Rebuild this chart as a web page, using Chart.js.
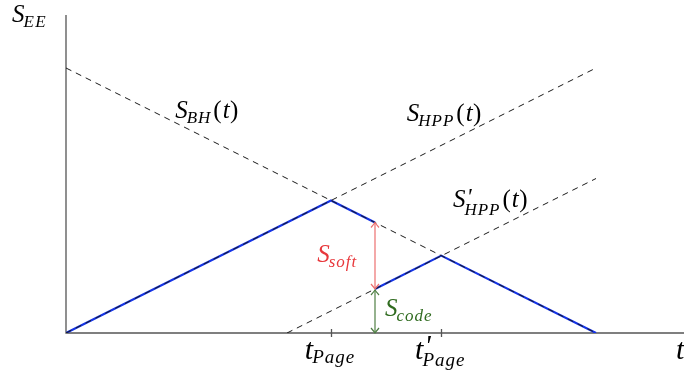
<!DOCTYPE html>
<html>
<head>
<meta charset="utf-8">
<script src="https://cdn.jsdelivr.net/npm/chart.js@4.4.1/dist/chart.umd.min.js"></script>
<style>
  html, body { margin: 0; padding: 0; background: #fff; }
  canvas { display: block; }
</style>
</head>
<body>
<canvas id="page-curve" width="684" height="374"></canvas>
<script>
// entropy curves, t on the horizontal axis, S on the vertical
const bhT = [0, 10];
const bhS = [10, 0];
const hppT = [0, 10];
const hppS = [0, 10];
const hppPrimeT = [4.17, 10];
const hppPrimeS = [0, 5.83];
const firstT = [0, 5, 5.83];
const firstS = [0, 5, 4.17];
const secondT = [5.83, 7.08, 10];
const secondS = [1.66, 2.92, 0];

// vertical gaps at the cut time
const cutT = 5.83;
const softRange = [1.66, 4.17];
const codeRange = [0, 1.66];

const tickValues = [5, 7.08];
const tickPrimes = [false, true];
const xMax = 11.66;
const yMax = 12;

const toPoints = (ts, ss) => ts.map((t, i) => ({ x: t, y: ss[i] }));

const font = (size, italic) => `${italic ? 'italic ' : ''}${size}px "Liberation Serif", "DejaVu Serif", serif`;

function textWidth(ctx, text, f, spacing) {
  ctx.font = f;
  return ctx.measureText(text).width + spacing * text.length;
}

// builds pieces for labels like S'_{HPP}(t)
function layoutMath(ctx, lb) {
  const M = lb.size || 23, SUB = lb.subSize || 16, sp = lb.spacing || 0;
  const pieces = [];
  let x = 0;
  pieces.push({ text: lb.base, font: font(M, true), dx: 0, dy: 0, sp: 0 });
  x += textWidth(ctx, lb.base, font(M, true), 0);
  if (lb.sup || lb.sub) {
    const start = x;
    let w1 = 0, w2 = 0;
    if (lb.sup) {
      const f = font(Math.round(M * 0.95), true);
      pieces.push({ text: lb.sup, font: f, dx: start + 1, dy: -M * 0.12, sp: 0 });
      w1 = textWidth(ctx, lb.sup, f, 0) + 2;
    }
    if (lb.sub) {
      pieces.push({ text: lb.sub, font: font(SUB, true), dx: start - 1, dy: lb.sup ? lb.subDy + 3 : lb.subDy, sp });
      w2 = textWidth(ctx, lb.sub, font(SUB, true), sp);
    }
    x = start + Math.max(w1, w2) + 1;
  }
  if (lb.arg) {
    [['(', false], ['t', true], [')', false]].forEach(([s, it]) => {
      pieces.push({ text: s, font: font(M, it), dx: x + (s === 't' ? 1 : 0), dy: 0, sp: 0 });
      x += textWidth(ctx, s, font(M, it), 0) + (s === 't' ? 1.5 : 0);
    });
  }
  return { pieces, width: x };
}

function drawMath(ctx, px, py, lb) {
  ctx.save();
  ctx.letterSpacing = '0px';
  const { pieces, width } = layoutMath(ctx, lb);
  const x0 = lb.align === 'center' ? px - width / 2 : px;
  ctx.fillStyle = lb.color || '#000';
  ctx.textBaseline = 'alphabetic';
  ctx.textAlign = 'left';
  pieces.forEach(p => {
    ctx.font = p.font;
    ctx.letterSpacing = p.sp + 'px';
    ctx.fillText(p.text, x0 + p.dx, py + p.dy);
  });
  ctx.restore();
}

const small = { size: 25, subSize: 17, spacing: 1, subDy: 5 };
const labels = [
  { t: -1.02, s: 11.74, base: 'S', sub: 'EE', ...small, spacing: 1.5 },
  { t: 2.06, s: 8.11, base: 'S', sub: 'BH', arg: true, ...small },
  { t: 6.43, s: 8.0, base: 'S', sub: 'HPP', arg: true, ...small },
  { t: 7.30, s: 4.75, base: 'S', sup: "'", sub: 'HPP', arg: true, ...small },
  { t: 4.74, s: 2.68, base: 'S', sub: 'soft', color: '#e8383c', ...small },
  { t: 6.02, s: 0.64, base: 'S', sub: 'code', color: '#2f6b1f', ...small },
  { t: 11.51, s: -0.98, base: 't', size: 30 }
];
const tickLabel = { base: 't', sub: 'Page', size: 30, subSize: 19, spacing: 1, subDy: 4, align: 'center' };

function arrowHead(ctx, x, y, dir) {
  ctx.beginPath();
  ctx.moveTo(x - 4, y + dir * 5);
  ctx.quadraticCurveTo(x - 1, y + dir * 1.5, x, y);
  ctx.quadraticCurveTo(x + 1, y + dir * 1.5, x + 4, y + dir * 5);
  ctx.stroke();
}

function doubleArrow(ctx, x, yTop, yBot, color) {
  ctx.save();
  ctx.strokeStyle = color;
  ctx.lineWidth = 1.2;
  ctx.beginPath();
  ctx.moveTo(x, yTop);
  ctx.lineTo(x, yBot);
  ctx.stroke();
  arrowHead(ctx, x, yTop, 1);
  arrowHead(ctx, x, yBot, -1);
  ctx.restore();
}

const decorations = {
  id: 'decorations',
  beforeDatasetsDraw(chart) {
    const { ctx, scales: { x, y } } = chart;
    const x0 = x.getPixelForValue(0), y0 = y.getPixelForValue(0);
    ctx.save();
    ctx.strokeStyle = '#555';
    ctx.lineWidth = 1.3;
    ctx.beginPath();
    ctx.moveTo(x0, y.getPixelForValue(yMax));
    ctx.lineTo(x0, y0);
    ctx.lineTo(x.getPixelForValue(xMax), y0);
    ctx.stroke();
    tickValues.forEach(v => {
      const px = Math.round(x.getPixelForValue(v)) + 0.5;
      ctx.beginPath();
      ctx.moveTo(px, y0 - 4);
      ctx.lineTo(px, y0 + 4);
      ctx.stroke();
    });
    ctx.restore();
  },
  afterDatasetsDraw(chart) {
    const { ctx, scales: { x, y } } = chart;
    const cx = x.getPixelForValue(cutT);
    doubleArrow(ctx, cx, y.getPixelForValue(softRange[1]), y.getPixelForValue(softRange[0]), '#ec6f6f');
    doubleArrow(ctx, cx, y.getPixelForValue(codeRange[1]) + 1, y.getPixelForValue(codeRange[0]), '#4f7f44');

    labels.forEach(lb => drawMath(ctx, x.getPixelForValue(lb.t), y.getPixelForValue(lb.s), lb));
    const yl = y.getPixelForValue(-0.98);
    tickValues.forEach((v, i) => {
      drawMath(ctx, x.getPixelForValue(v), yl, { ...tickLabel, sup: tickPrimes[i] ? "'" : null });
    });
  }
};

const dashed = (data) => ({
  data, borderColor: '#1a1a1a', borderWidth: 1, borderDash: [6, 5],
  pointRadius: 0, fill: false, tension: 0
});
const solid = (data) => ({
  data, borderColor: '#1433e6', borderWidth: 2.2,
  pointRadius: 0, fill: false, tension: 0
});

new Chart(document.getElementById('page-curve'), {
  type: 'line',
  data: {
    datasets: [
      dashed(toPoints(bhT, bhS)),
      dashed(toPoints(hppT, hppS)),
      dashed(toPoints(hppPrimeT, hppPrimeS)),
      solid(toPoints(firstT, firstS)),
      solid(toPoints(secondT, secondS))
    ]
  },
  options: {
    responsive: false,
    animation: false,
    layout: { padding: { left: 66, right: 0, top: 15, bottom: 41 } },
    plugins: { legend: { display: false }, tooltip: { enabled: false } },
    scales: {
      x: { type: 'linear', min: 0, max: xMax, display: false },
      y: { type: 'linear', min: 0, max: yMax, display: false }
    }
  },
  plugins: [decorations]
});
</script>
</body>
</html>
